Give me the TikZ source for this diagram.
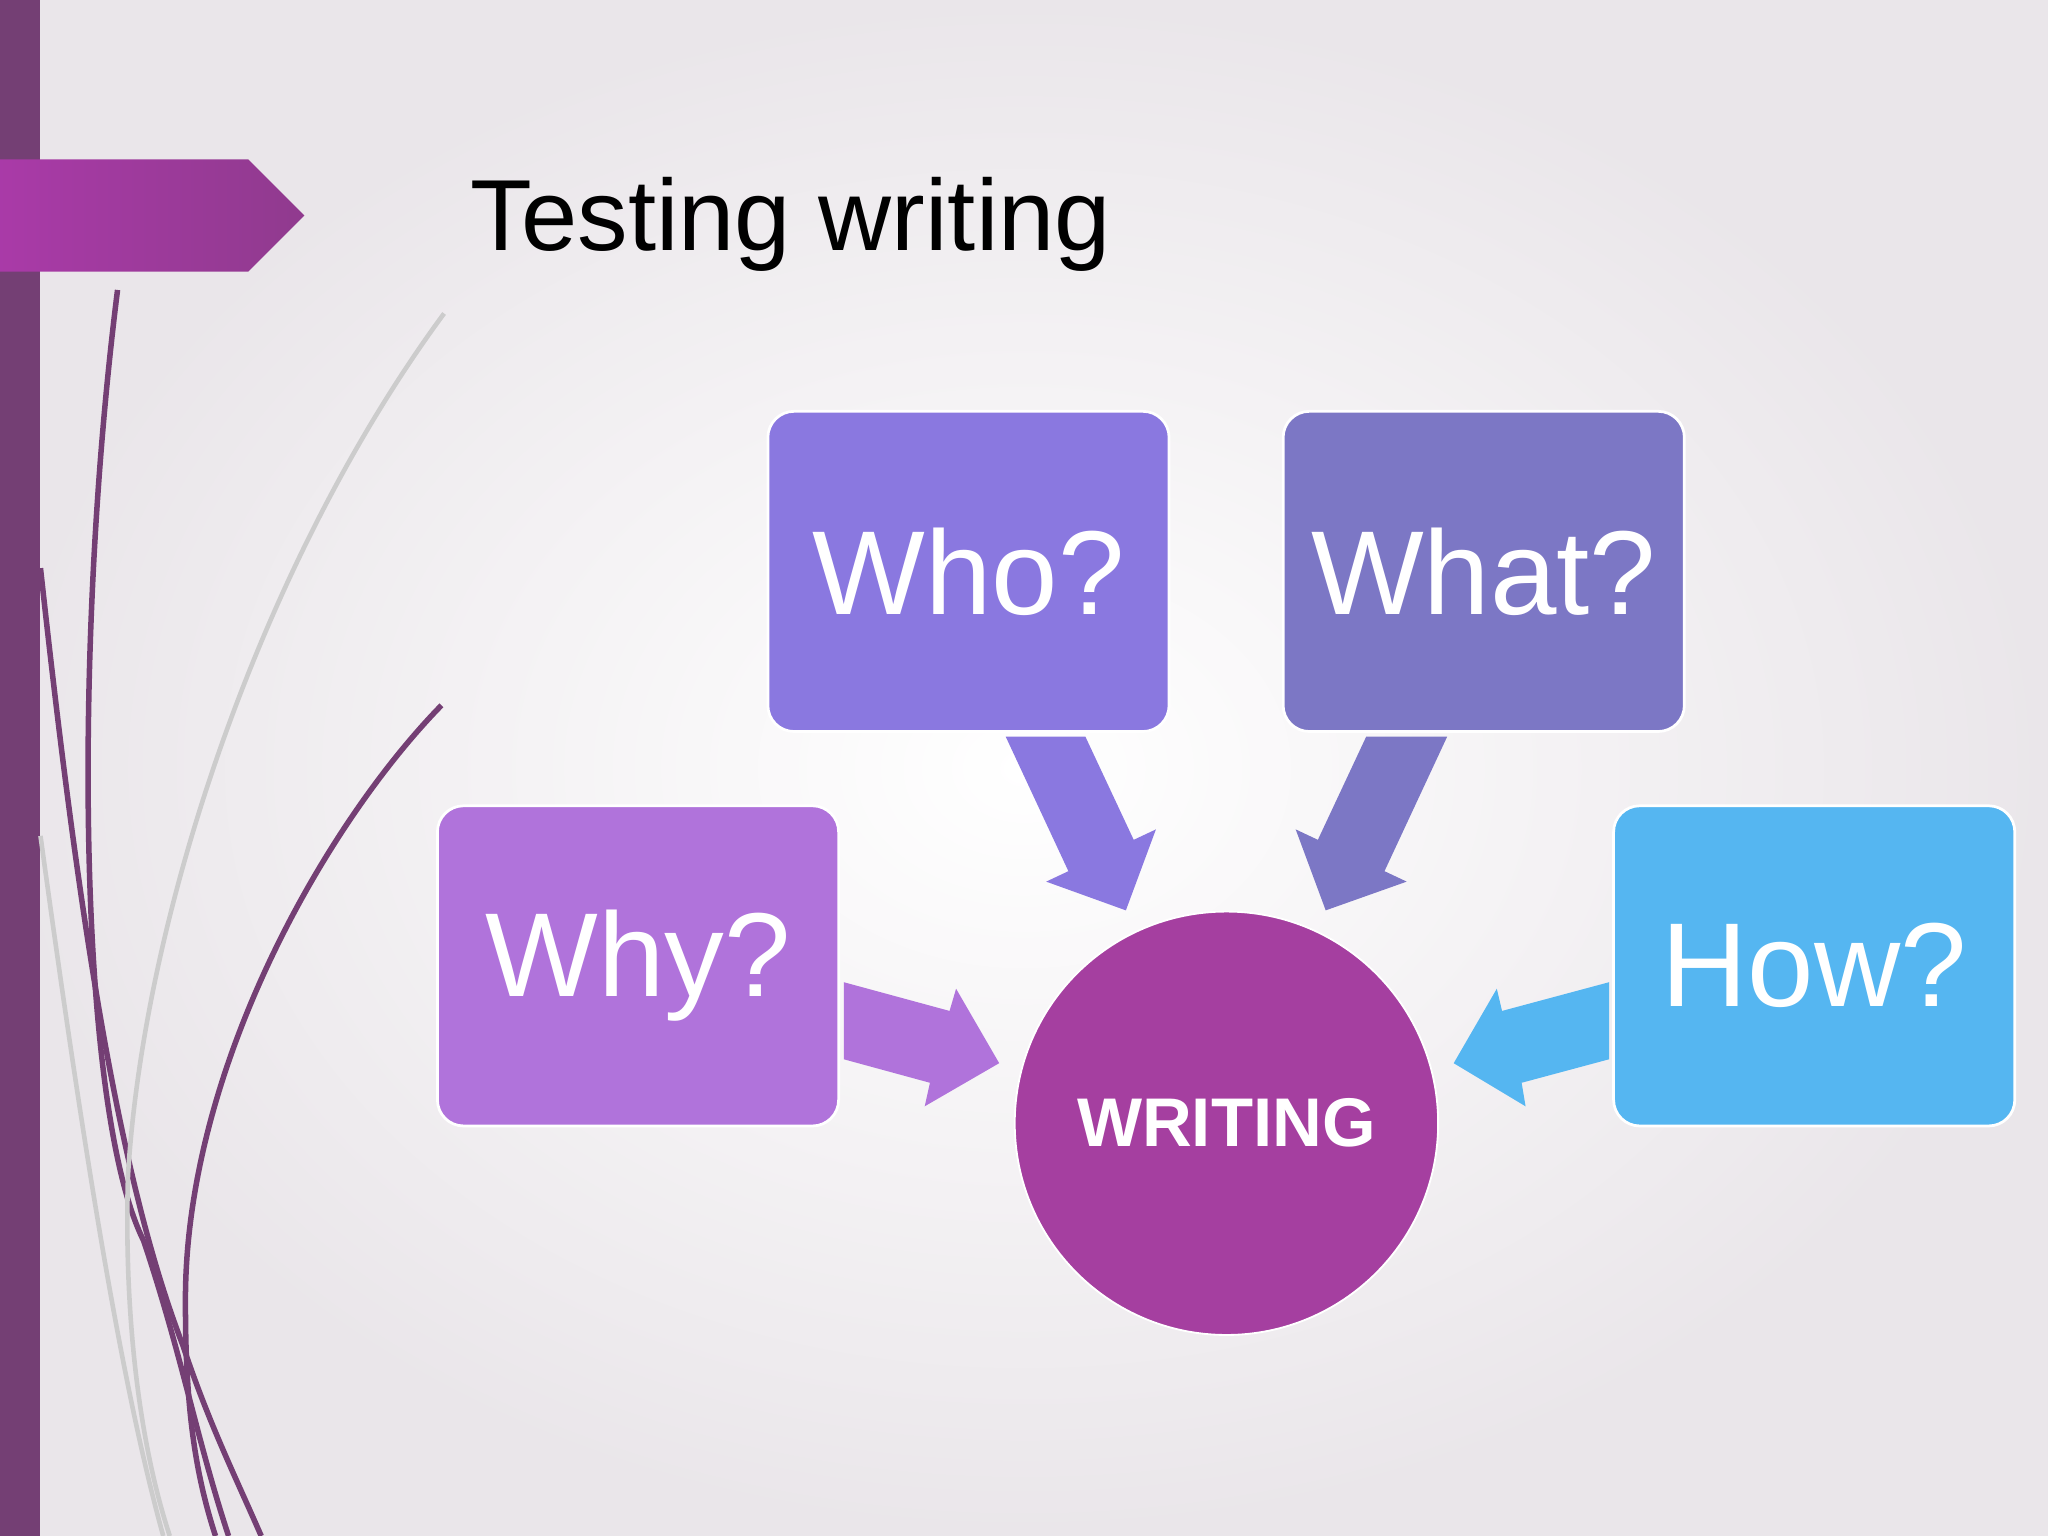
\documentclass[tikz,border=0pt]{standalone}
\usepackage{fontspec}
\setmainfont{Liberation Sans}
\definecolor{bar}{HTML}{743F74}
\definecolor{tag}{HTML}{A0409E}
\definecolor{who}{HTML}{8A78E0}
\definecolor{what}{HTML}{7C77C5}
\definecolor{why}{HTML}{B073DB}
\definecolor{how}{HTML}{55B6F1}
\definecolor{circ}{HTML}{A53FA0}
\definecolor{curve}{HTML}{743F74}
\begin{document}
\begin{tikzpicture}[x=0.01cm,y=-0.01cm,
  qbox/.style={draw=white,line width=0.6pt,rounded corners=0.2cm,minimum width=3.07cm,minimum height=2.45cm,text=white,font=\fontsize{26}{30}\selectfont},
  barrow/.style={line width=0pt}]
\useasboundingbox (0,0) rectangle (1568,1176);
\shade[inner color=white,outer color=black!7!white!97!violet] (0,0) rectangle (1568,1176);
\fill[bar] (0,0) rectangle (31,1176);
\shade[left color=tag!90!magenta,right color=tag!90!black] (0,122) -- (190,122) -- (233,165) -- (190,208) -- (0,208) -- cycle;
% decorative curves
\draw[curve,line width=1.2pt] (90,222) .. controls (55,500) and (60,850) .. (110,950) .. controls (140,1040) and (150,1100) .. (175,1176);
\draw[curve,line width=1.2pt] (31,435) .. controls (60,700) and (90,900) .. (140,1030) .. controls (160,1090) and (180,1130) .. (200,1176);
\draw[curve,line width=1.2pt] (338,540) .. controls (250,630) and (140,820) .. (142,1000) .. controls (142,1080) and (150,1130) .. (165,1176);
\draw[black!20,line width=1pt] (340,240) .. controls (200,430) and (110,700) .. (98,900) .. controls (95,1000) and (105,1100) .. (130,1176);
\draw[black!20,line width=1pt] (31,640) .. controls (60,850) and (90,1050) .. (125,1176);
\node[anchor=base west,font=\fontsize{22}{26}\selectfont] (title) at (348,192) {Testing writing};
% boxes
\node[qbox,fill=who] (who) at (741.5,437.5) {Who?};
\node[qbox,fill=what] (what) at (1136,437.5) {What?};
\node[qbox,fill=why] (why) at (488.5,739.5) {Why?};
\node[qbox,fill=how] (how) at (1389,739.5) {How?};
\node[circle,fill=circ,draw=white,minimum size=3.24cm,text=white,font=\bfseries\fontsize{15}{18}\selectfont] (w) at (939,860) {WRITING};
% block arrows
\fill[who] (770,564) -- (831,564) -- (868,643) -- (885,635) -- (862,697) -- (801,675) -- (818,667) -- cycle;
\fill[what] (1046,564) -- (1108,564) -- (1060,667) -- (1077,675) -- (1015,697) -- (992,635) -- (1009,643) -- cycle;
\fill[why] (646,752) -- (727,774) -- (732,757) -- (765,814) -- (708,847) -- (712,829) -- (646,811) -- cycle;
\fill[how] (1232,752) -- (1150,774) -- (1146,757) -- (1113,814) -- (1168,847) -- (1165,829) -- (1232,811) -- cycle;
\end{tikzpicture}
\end{document}
